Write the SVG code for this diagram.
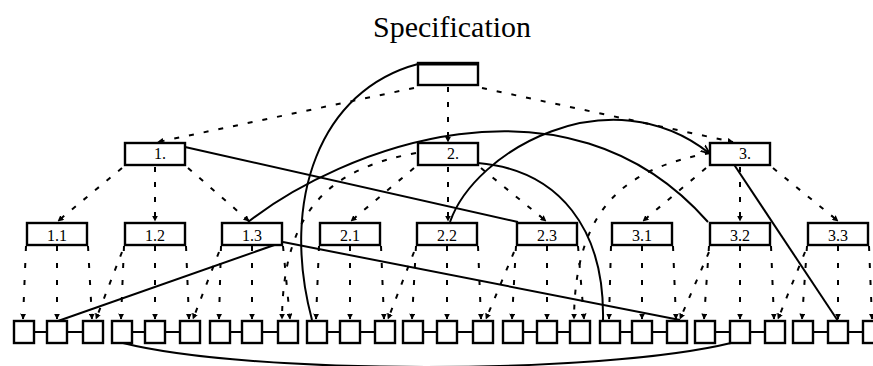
<svg xmlns="http://www.w3.org/2000/svg" width="873" height="366" viewBox="0 0 873 366">
<defs>
<marker id="ah" viewBox="0 0 10 10" refX="9" refY="5" markerWidth="6" markerHeight="6" markerUnits="userSpaceOnUse" orient="auto">
<path d="M0,0 L10,5 L0,10 Z" fill="#000"/>
</marker>
<marker id="ahs" viewBox="0 0 10 10" refX="9" refY="5" markerWidth="9" markerHeight="9" markerUnits="userSpaceOnUse" orient="auto">
<path d="M0,1 L10,5 L0,9" fill="none" stroke="#000" stroke-width="2"/>
</marker>
</defs>
<style>
.box{fill:#fff;stroke:#000;stroke-width:2.4}
.sq{fill:#fff;stroke:#000;stroke-width:2.4}
.lbl{font-family:"Liberation Serif","Times New Roman",serif;font-size:16px;fill:#000;text-anchor:middle}
.title{font-family:"Liberation Serif","Times New Roman",serif;font-size:29px;fill:#000;text-anchor:middle}
.dd{fill:none;stroke:#000;stroke-width:2;stroke-dasharray:5 10;marker-end:url(#ah)}
.dv{fill:none;stroke:#000;stroke-width:2;stroke-dasharray:5 12;marker-end:url(#ah)}
.sl{fill:none;stroke:#000;stroke-width:2}
.ch{stroke:#000;stroke-width:2}
</style>
<rect width="873" height="366" fill="#fff"/>
<text class="title" x="452" y="37" textLength="158" lengthAdjust="spacingAndGlyphs">Specification</text>

<g id="connectors">
<path class="dd" d="M414,88 L158,142"/>
<path class="dd" d="M448,87 L448,142"/>
<path class="dd" d="M482,88 L733,142"/>
<path class="dd" d="M122,168 L58,221"/>
<path class="dd" d="M155,167 L155,221"/>
<path class="dd" d="M188,168 L249,221"/>
<path class="dd" d="M414,168 L351,221"/>
<path class="dd" d="M448,167 L448,221"/>
<path class="dd" d="M481,168 L546,221"/>
<path class="dd" d="M706,168 L643,221"/>
<path class="dd" d="M740,167 L740,221"/>
<path class="dd" d="M773,168 L838,221"/>
<path class="dd" d="M416,153 C335,168 283,205 282,319"/>
<path class="dd" d="M710,153 C628,168 575,205 574,319"/>
<path class="dv" d="M26,246 L23,319"/><path class="dv" d="M57,246 L57,319"/><path class="dv" d="M88,246 L92,319"/>
<path class="dv" d="M124,246 L121,319"/><path class="dv" d="M155,246 L155,319"/><path class="dv" d="M186,246 L189,319"/>
<path class="dv" d="M221,246 L219,319"/><path class="dv" d="M252,246 L252,319"/><path class="dv" d="M283,246 L290,319"/>
<path class="dv" d="M319,246 L316,319"/><path class="dv" d="M350,246 L350,319"/><path class="dv" d="M381,246 L384,319"/>
<path class="dv" d="M416,246 L412,319"/><path class="dv" d="M447,246 L447,319"/><path class="dv" d="M478,246 L481,319"/>
<path class="dv" d="M516,246 L512,319"/><path class="dv" d="M547,246 L547,319"/><path class="dv" d="M578,246 L584,319"/>
<path class="dv" d="M611,246 L609,319"/><path class="dv" d="M642,246 L642,319"/><path class="dv" d="M673,246 L676,319"/>
<path class="dv" d="M709,246 L704,319"/><path class="dv" d="M740,246 L740,319"/><path class="dv" d="M771,246 L774,319"/>
<path class="dv" d="M807,246 L802,319"/><path class="dv" d="M838,246 L838,319"/><path class="dv" d="M869,246 L872,319"/>
<path class="dd" d="M122,252 L96,319"/>
<path class="dd" d="M219,252 L193,319"/>
<path class="dd" d="M414,252 L388,319"/>
<path class="dd" d="M514,252 L486,319"/>
<path class="dd" d="M709,252 L680,319"/>
<path class="dd" d="M805,252 L778,319"/>
<path class="sl" d="M418,64 C320,90 280,200 312,320"/>
<path class="sl" d="M248,222 C340,150 565,60 708,222"/>
<path class="sl" d="M450,222 C475,150 610,75 709,153" marker-end="url(#ahs)"/>
<path class="sl" d="M478,163 C560,170 605,230 603,321"/>
<path class="sl" d="M185,147 L518,222"/>
<path class="sl" d="M733,163 L838,321"/>
<path class="sl" d="M283,242 L58,321"/>
<path class="sl" d="M283,242 L680,320"/>
<path class="sl" d="M123,343 C250,375 600,375 731,343"/>
<line class="ch" x1="34" y1="332" x2="47" y2="332"/><line class="ch" x1="67" y1="332" x2="83" y2="332"/>
<line class="ch" x1="132" y1="332" x2="145" y2="332"/><line class="ch" x1="165" y1="332" x2="180" y2="332"/>
<line class="ch" x1="230" y1="332" x2="242" y2="332"/><line class="ch" x1="262" y1="332" x2="278" y2="332"/>
<line class="ch" x1="327" y1="332" x2="340" y2="332"/><line class="ch" x1="360" y1="332" x2="375" y2="332"/>
<line class="ch" x1="423" y1="332" x2="437" y2="332"/><line class="ch" x1="457" y1="332" x2="473" y2="332"/>
<line class="ch" x1="523" y1="332" x2="537" y2="332"/><line class="ch" x1="557" y1="332" x2="570" y2="332"/>
<line class="ch" x1="620" y1="332" x2="632" y2="332"/><line class="ch" x1="652" y1="332" x2="667" y2="332"/>
<line class="ch" x1="715" y1="332" x2="730" y2="332"/><line class="ch" x1="750" y1="332" x2="765" y2="332"/>
<line class="ch" x1="813" y1="332" x2="828" y2="332"/><line class="ch" x1="848" y1="332" x2="863" y2="332"/>
</g>

<g id="root"><rect class="box" x="418" y="63" width="60" height="22"/><line x1="418" y1="64" x2="478" y2="64" stroke="#000" stroke-width="3"/></g>
<g id="n1"><rect class="box" x="125" y="143" width="60" height="22"/><text class="lbl" x="160" y="159">1.</text></g>
<g id="n2"><rect class="box" x="418" y="143" width="60" height="22"/><text class="lbl" x="453" y="159">2.</text></g>
<g id="n3"><rect class="box" x="710" y="143" width="60" height="22"/><text class="lbl" x="745" y="159">3.</text></g>

<g id="n1_1"><rect class="box" x="27" y="223" width="60" height="22"/><text class="lbl" x="57" y="241">1.1</text></g>
<g id="n1_2"><rect class="box" x="125" y="223" width="60" height="22"/><text class="lbl" x="155" y="241">1.2</text></g>
<g id="n1_3"><rect class="box" x="222" y="223" width="60" height="22"/><text class="lbl" x="252" y="241">1.3</text></g>
<g id="n2_1"><rect class="box" x="320" y="223" width="60" height="22"/><text class="lbl" x="350" y="241">2.1</text></g>
<g id="n2_2"><rect class="box" x="417" y="223" width="60" height="22"/><text class="lbl" x="447" y="241">2.2</text></g>
<g id="n2_3"><rect class="box" x="517" y="223" width="60" height="22"/><text class="lbl" x="547" y="241">2.3</text></g>
<g id="n3_1"><rect class="box" x="612" y="223" width="60" height="22"/><text class="lbl" x="642" y="241">3.1</text></g>
<g id="n3_2"><rect class="box" x="710" y="223" width="60" height="22"/><text class="lbl" x="740" y="241">3.2</text></g>
<g id="n3_3"><rect class="box" x="808" y="223" width="60" height="22"/><text class="lbl" x="838" y="241">3.3</text></g>

<g id="s1"><rect class="sq" x="14" y="321" width="20" height="22"/></g>
<g id="s2"><rect class="sq" x="47" y="321" width="20" height="22"/></g>
<g id="s3"><rect class="sq" x="83" y="321" width="20" height="22"/></g>
<g id="s4"><rect class="sq" x="112" y="321" width="20" height="22"/></g>
<g id="s5"><rect class="sq" x="145" y="321" width="20" height="22"/></g>
<g id="s6"><rect class="sq" x="180" y="321" width="20" height="22"/></g>
<g id="s7"><rect class="sq" x="210" y="321" width="20" height="22"/></g>
<g id="s8"><rect class="sq" x="242" y="321" width="20" height="22"/></g>
<g id="s9"><rect class="sq" x="278" y="321" width="20" height="22"/></g>
<g id="s10"><rect class="sq" x="307" y="321" width="20" height="22"/></g>
<g id="s11"><rect class="sq" x="340" y="321" width="20" height="22"/></g>
<g id="s12"><rect class="sq" x="375" y="321" width="20" height="22"/></g>
<g id="s13"><rect class="sq" x="403" y="321" width="20" height="22"/></g>
<g id="s14"><rect class="sq" x="437" y="321" width="20" height="22"/></g>
<g id="s15"><rect class="sq" x="473" y="321" width="20" height="22"/></g>
<g id="s16"><rect class="sq" x="503" y="321" width="20" height="22"/></g>
<g id="s17"><rect class="sq" x="537" y="321" width="20" height="22"/></g>
<g id="s18"><rect class="sq" x="570" y="321" width="20" height="22"/></g>
<g id="s19"><rect class="sq" x="600" y="321" width="20" height="22"/></g>
<g id="s20"><rect class="sq" x="632" y="321" width="20" height="22"/></g>
<g id="s21"><rect class="sq" x="667" y="321" width="20" height="22"/></g>
<g id="s22"><rect class="sq" x="695" y="321" width="20" height="22"/></g>
<g id="s23"><rect class="sq" x="730" y="321" width="20" height="22"/></g>
<g id="s24"><rect class="sq" x="765" y="321" width="20" height="22"/></g>
<g id="s25"><rect class="sq" x="793" y="321" width="20" height="22"/></g>
<g id="s26"><rect class="sq" x="828" y="321" width="20" height="22"/></g>
<g id="s27"><rect class="sq" x="863" y="321" width="20" height="22"/></g>
</svg>
